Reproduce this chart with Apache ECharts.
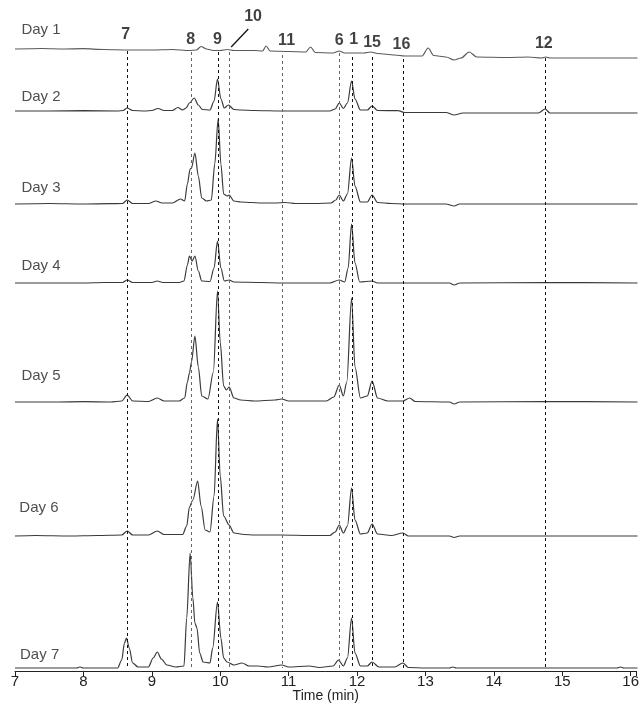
<!DOCTYPE html>
<html>
<head>
<meta charset="utf-8">
<script src="https://cdn.jsdelivr.net/npm/echarts@6/dist/echarts.min.js"></script>
<style>
  html, body { margin: 0; padding: 0; background: #fff; }
  #chart { width: 642px; height: 723px; }
</style>
</head>
<body>
<div id="chart"></div>
<script>
// Chromatograms of seven sampling days, stacked with a fixed baseline offset.
// Each trace is a list of [retention time (min), detector response (a.u.)].
const dayNames = ['Day 1', 'Day 2', 'Day 3', 'Day 4', 'Day 5', 'Day 6', 'Day 7'];
const dayOffsets = [622, 560, 467, 388, 269, 135, 3];

const day1 = [[7.00,0],[7.4,0.5],[7.7,0],[8.0,0.3],[8.3,-0.5],[8.64,-1],[9.0,-1],[9.3,-0.5],[9.55,-1.5],[9.65,-1],[9.72,2.5],[9.8,0],[9.9,-1.5],[10.0,-1.5],[10.1,-0.5],[10.2,-1.5],[10.5,-1.5],[10.62,-2],[10.67,3],[10.73,-2],[11.0,-2.5],[11.25,-3],[11.32,2],[11.39,-3.5],[11.65,-4],[11.74,-2],[11.82,-4],[12.1,-4],[12.2,-3],[12.3,-4.5],[12.55,-6],[12.7,-7],[12.95,-7],[13.04,1],[13.12,-6.5],[13.3,-8],[13.42,-11],[13.52,-9],[13.64,-3],[13.75,-8],[14.2,-8.5],[14.5,-8],[14.7,-9],[14.76,-8],[14.82,-9],[16.1,-9]];

const day2 = [[7.0,0],[7.5,0],[8.0,0.3],[8.5,0],[8.58,0.5],[8.64,3],[8.72,0.5],[8.9,0],[9.0,0.5],[9.09,2.5],[9.18,0.5],[9.3,0.5],[9.38,3.5],[9.45,1],[9.5,3],[9.55,8],[9.62,13],[9.68,6],[9.74,1.5],[9.85,1],[9.91,10],[9.96,32],[10.01,12],[10.06,3],[10.12,6],[10.2,1.5],[10.3,1],[10.5,0.5],[10.9,0],[11.2,0],[11.6,0],[11.68,2],[11.74,8],[11.8,2.5],[11.86,8],[11.92,30],[11.97,12],[12.05,1],[12.15,1],[12.22,5],[12.3,0.5],[12.6,0.3],[12.7,-1.5],[13.3,-1.5],[13.42,-4],[13.55,-2],[14.65,-2],[14.75,2],[14.82,-2],[16.1,-2]];

const day3 = [[7.0,0],[7.5,0.5],[8.0,0],[8.4,0.3],[8.57,0.5],[8.64,4],[8.72,0.5],[8.95,0.5],[9.06,3],[9.15,1],[9.3,1],[9.42,5],[9.48,3],[9.52,20],[9.56,35],[9.58,36],[9.63,51],[9.68,28],[9.73,6],[9.8,3],[9.87,4],[9.92,40],[9.97,85],[10.01,40],[10.05,10],[10.1,8],[10.13,9],[10.2,3],[10.3,2],[10.45,1.5],[10.6,1],[10.8,1],[10.95,1.5],[11.1,0.5],[11.4,0.5],[11.62,1],[11.69,4],[11.74,9],[11.8,3],[11.86,10],[11.92,46],[11.97,18],[12.05,2],[12.15,2],[12.22,9],[12.3,1.5],[12.5,0.5],[12.7,0],[13.3,0],[13.42,-2],[13.5,0],[16.1,0]];

const day4 = [[7.0,0],[8.0,0],[8.3,0.5],[8.57,0.5],[8.64,3],[8.72,0.5],[9.0,0.5],[9.08,2],[9.16,0.5],[9.4,0.5],[9.47,2],[9.52,18],[9.55,27],[9.59,22],[9.63,27],[9.68,12],[9.73,2],[9.85,1.5],[9.91,15],[9.96,42],[10.01,15],[10.06,2],[10.13,3],[10.2,1],[10.6,0.5],[10.9,0],[11.6,0],[11.74,3],[11.82,1],[11.87,15],[11.92,59],[11.97,20],[12.04,1],[12.22,2],[12.3,0],[12.7,0],[13.35,0],[13.42,-2],[13.5,0],[14.75,0.5],[16.1,0]];

const day5 = [[7.0,0],[7.6,0],[8.0,0.3],[8.4,0],[8.56,1],[8.64,7],[8.72,1],[8.95,0.5],[9.08,4],[9.18,1],[9.4,1],[9.48,4],[9.52,20],[9.55,29],[9.58,40],[9.63,66],[9.68,35],[9.73,6],[9.82,3],[9.9,30],[9.96,111],[10.0,60],[10.05,16],[10.09,12],[10.13,15],[10.2,4],[10.3,2],[10.5,1],[10.8,2],[10.9,3],[11.0,1],[11.3,1],[11.55,1],[11.66,5],[11.74,17],[11.8,6],[11.85,20],[11.92,104],[11.97,35],[12.05,4],[12.15,6],[12.22,21],[12.3,4],[12.45,1],[12.67,1],[12.77,4],[12.85,0.5],[13.35,0],[13.42,-2],[13.5,0],[14.75,0.5],[16.1,0]];

const day6 = [[7.0,0],[7.3,0.5],[7.8,0],[8.2,0.5],[8.56,1],[8.64,5],[8.72,1],[8.95,1],[9.08,5],[9.18,1.5],[9.45,1.5],[9.51,10],[9.55,29],[9.6,36],[9.67,55],[9.72,30],[9.78,6],[9.85,4],[9.91,40],[9.96,117],[10.0,60],[10.05,20],[10.13,11],[10.2,3],[10.35,1.5],[10.5,1],[10.9,1],[11.3,0.5],[11.6,0.5],[11.68,4],[11.74,11],[11.8,3],[11.86,10],[11.92,48],[11.97,16],[12.05,2],[12.15,3],[12.22,12],[12.3,2],[12.5,0.5],[12.67,3],[12.75,0],[13.35,0],[13.42,-1.5],[13.5,0],[16.1,0]];

const day7 = [[7.0,0],[7.9,0],[7.95,1],[8.0,0],[8.5,0],[8.56,8],[8.6,25],[8.63,30],[8.67,20],[8.72,5],[8.8,1],[8.95,1],[9.02,10],[9.08,16],[9.14,9],[9.22,3],[9.35,1],[9.47,2],[9.51,50],[9.56,115],[9.6,70],[9.63,45],[9.66,40],[9.7,15],[9.75,6],[9.85,5],[9.89,20],[9.96,66],[10.01,30],[10.05,10],[10.1,6],[10.2,3],[10.32,5],[10.42,2],[10.55,2],[10.7,1],[10.9,3],[11.0,1],[11.3,2],[11.45,0.5],[11.65,2],[11.73,8],[11.8,2],[11.86,10],[11.92,50],[11.97,15],[12.05,2],[12.15,2],[12.22,6],[12.32,1],[12.55,1],[12.67,5],[12.75,0.5],[13.0,0],[13.35,0],[13.4,1],[13.45,0],[15.8,0],[15.85,1],[15.9,0],[16.1,0]];

const traces = [day1, day2, day3, day4, day5, day6, day7];

// Identified compounds and their retention times (min)
const compoundIds   = ['7', '8', '9', '10', '11', '6', '1', '15', '16', '12'];
const compoundTimes = [8.64, 9.57, 9.97, 10.13, 10.90, 11.74, 11.93, 12.22, 12.67, 14.75];

// Tick labels of the time axis
const timeTicks = [7, 8, 9, 10, 11, 12, 13, 14, 15, 16];

// ---- layout helpers (placement of annotation text, not data) ----
const dashTop    = [620, 619, 619, 619, 616, 618, 614, 614, 612, 613];
const dashBottom = 3;
const dashShade  = ['#111', '#666', '#111', '#666', '#666', '#666', '#111', '#111', '#111', '#111'];
const tagPlace   = [[8.62, 636], [9.57, 631], [9.96, 631], [10.48, 654], [10.97, 630], [11.74, 630], [11.95, 631], [12.22, 628], [12.65, 626], [14.73, 627]];
const dayLabelPlace = [[7.38, 641], [7.38, 574], [7.38, 483], [7.38, 405], [7.38, 295], [7.35, 163], [7.36, 16]];
const slashLine = [[10.16, 624], [10.41, 642]];

const fontFam = 'Liberation Sans, Arial, sans-serif';

const series = [];
traces.forEach((tr, i) => {
  series.push({
    type: 'line',
    name: dayNames[i],
    data: tr.map(p => [p[0], p[1] + dayOffsets[i]]),
    showSymbol: false,
    symbol: 'none',
    smooth: 0.3,
    smoothMonotone: 'x',
    lineStyle: { color: i === 0 ? '#5a5a5a' : '#3a3a3a', width: 1.2 },
    silent: true,
    z: 3
  });
});

// dashed retention markers and the pointer to compound 10
series.push({
  type: 'line',
  data: [],
  silent: true,
  markLine: {
    silent: true,
    symbol: 'none',
    animation: false,
    label: { show: false },
    data: compoundTimes.map((t, k) => [
      { coord: [t, dashTop[k]], lineStyle: { color: dashShade[k], width: 1, type: [3, 3] } },
      { coord: [t, dashBottom] }
    ]).concat([[
      { coord: slashLine[0], lineStyle: { color: '#111', width: 1.3, type: 'solid' } },
      { coord: slashLine[1] }
    ]])
  },
  z: 2
});

// compound numbers
series.push({
  type: 'scatter',
  symbolSize: 1,
  itemStyle: { color: 'rgba(0,0,0,0)' },
  silent: true,
  data: compoundIds.map((id, k) => ({ value: tagPlace[k], name: id })),
  label: {
    show: true,
    position: 'inside',
    formatter: p => p.name,
    color: '#111',
    fontFamily: fontFam,
    fontWeight: 'bold',
    fontSize: 16
  },
  z: 5
});

// day captions
series.push({
  type: 'scatter',
  symbolSize: 1,
  itemStyle: { color: 'rgba(0,0,0,0)' },
  silent: true,
  data: dayNames.map((n, i) => ({ value: dayLabelPlace[i], name: n })),
  label: {
    show: true,
    position: 'inside',
    formatter: p => p.name,
    color: '#222',
    fontFamily: fontFam,
    fontSize: 15
  },
  z: 5
});

const chart = echarts.init(document.getElementById('chart'), null, { renderer: 'canvas' });
chart.setOption({
  animation: false,
  backgroundColor: '#fff',
  grid: { left: 15, right: 0, top: 0, bottom: 52, containLabel: false },
  xAxis: {
    type: 'value',
    min: 7,
    max: 16.087,
    interval: 1,
    name: 'Time (min)',
    nameLocation: 'middle',
    nameGap: 18,
    nameMoveOverlap: false,
    nameTextStyle: { color: '#222', fontSize: 14, fontFamily: fontFam, verticalAlign: 'top' },
    axisLine: { lineStyle: { color: '#222', width: 1 } },
    axisTick: { show: true, length: 5, lineStyle: { color: '#222' } },
    axisLabel: {
      color: '#222',
      fontSize: 15,
      margin: 3,
      fontFamily: fontFam,
      formatter: v => (timeTicks.indexOf(Math.round(v)) >= 0 && Math.abs(v - Math.round(v)) < 1e-6) ? String(Math.round(v)) : ''
    },
    splitLine: { show: false }
  },
  yAxis: {
    type: 'value',
    min: 0,
    max: 671,
    show: false,
    splitLine: { show: false }
  },
  series: series
});
</script>
</body>
</html>
